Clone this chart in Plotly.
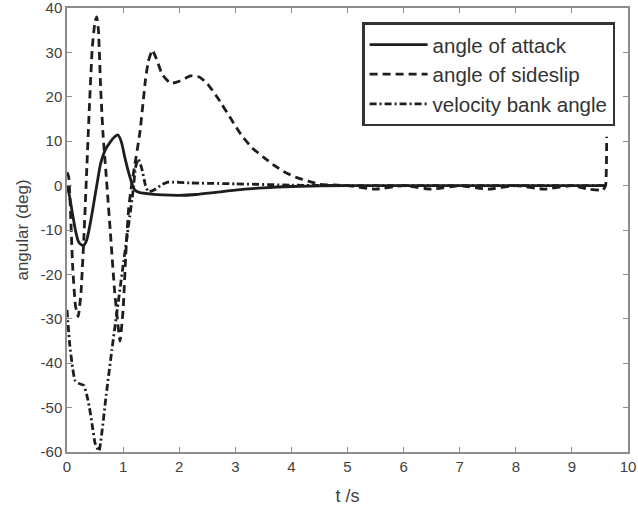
import plotly.graph_objects as go

# angle of attack (solid)
t_alpha = [0, 0.04, 0.1, 0.15, 0.2, 0.25, 0.3, 0.35, 0.4, 0.45, 0.53, 0.6, 0.68, 0.77, 0.85, 0.91, 0.97, 1.03, 1.08, 1.12, 1.17, 1.21, 1.3, 1.5, 1.7, 2.0, 2.3, 2.6, 3.0, 3.5, 4.0, 5.0, 6.0, 7.0, 8.0, 9.0, 9.6]
alpha = [0, -2, -6.5, -10, -12.5, -13.3, -13.4, -12.3, -9.5, -6, 0, 5, 8, 9.8, 11, 11.4, 9.8, 6.4, 3.8, 2, 0, -1, -1.6, -1.9, -2.1, -2.2, -2.0, -1.6, -1.0, -0.5, -0.2, 0, 0, 0, 0, 0, 0]

# angle of sideslip (dashed)
t_beta = [0, 0.03, 0.06, 0.1, 0.15, 0.2, 0.25, 0.3, 0.35, 0.4, 0.45, 0.5, 0.53, 0.56, 0.6, 0.64, 0.7, 0.77, 0.85, 0.945, 1.0, 1.05, 1.1, 1.15, 1.2, 1.3, 1.4, 1.45, 1.52, 1.58, 1.7, 1.85, 2.0, 2.2, 2.35, 2.5, 2.7, 2.9, 3.1, 3.3, 3.5, 3.7, 3.9, 4.1, 4.3, 4.5, 5.0, 5.5, 6.0, 6.5, 7.0, 7.5, 8.0, 8.5, 9.0, 9.3, 9.55, 9.6, 9.62]
beta = [3, 2, -5, -18, -27, -29.5, -24, -12, 3, 18, 31, 37, 38, 35, 22, 12, 2, -10, -24, -35, -28, -15, -5, 0, 4, 12, 24, 28, 30.5, 29, 25, 23, 23.5, 24.7, 24.5, 23, 19.5, 15.5, 11.5, 8.5, 6.4, 4.5, 2.9, 1.8, 1.0, 0.3, 0, -0.8, 0, -0.8, 0, -0.8, 0, -0.8, 0, -0.8, -1, 0, 11]

# velocity bank angle (dash-dot)
t_bank = [0, 0.05, 0.1, 0.14, 0.2, 0.3, 0.35, 0.4, 0.45, 0.5, 0.57, 0.7, 0.8, 0.9, 1.0, 1.1, 1.18, 1.22, 1.27, 1.33, 1.4, 1.45, 1.55, 1.7, 1.8, 2.2, 3.0, 4.0, 5.0, 6.0, 7.0, 8.0, 9.0, 9.6]
bank = [-28, -36, -41, -43.8, -44.5, -45, -47, -50, -54, -58, -59.8, -47, -37, -27.5, -18, -8.7, -1, 4, 6, 4, 0, -1.4, -1, 0.3, 0.8, 0.6, 0.4, 0.1, 0, 0, 0, 0, 0, 0]

x_ticks = [0, 1, 2, 3, 4, 5, 6, 7, 8, 9, 10]
y_ticks = [-60, -50, -40, -30, -20, -10, 0, 10, 20, 30, 40]

series_names = ["angle of attack", "angle of sideslip", "velocity bank angle"]

line_col = "#1e1e1e"
fig = go.Figure()
fig.add_trace(go.Scatter(x=t_alpha, y=alpha, mode="lines", name=series_names[0],
                         line=dict(color=line_col, width=2.8, shape="spline", smoothing=0.6)))
fig.add_trace(go.Scatter(x=t_beta, y=beta, mode="lines", name=series_names[1],
                         line=dict(color=line_col, width=2.8, dash="8px,5px", shape="spline", smoothing=0.4)))
fig.add_trace(go.Scatter(x=t_bank, y=bank, mode="lines", name=series_names[2],
                         line=dict(color=line_col, width=2.8, dash="7px,3px,2px,3px", shape="spline", smoothing=0.4)))

axis_col = "#8c8c8c"
font_fam = "Liberation Sans, Arial"
common = dict(showgrid=False, zeroline=False, showline=True, linecolor=axis_col, linewidth=1.5,
              mirror="ticks", ticks="inside", ticklen=5, tickcolor=axis_col, tickwidth=1,
              automargin=False, ticklabeloverflow="allow",
              tickfont=dict(family=font_fam, size=15, color="#404040"))
fig.update_xaxes(range=[0, 10], tickvals=x_ticks, ticktext=[str(v) for v in x_ticks],
                 title=dict(text="t /s", font=dict(family=font_fam, size=18, color="#404040"), standoff=16),
                 **common)
fig.update_yaxes(range=[-60, 40], tickvals=y_ticks, ticktext=[str(v) for v in y_ticks],
                 title=dict(text="angular (deg)", font=dict(family=font_fam, size=17, color="#404040"), standoff=8),
                 **common)

fig.update_layout(
    width=638, height=512,
    margin=dict(l=67, r=10, t=8, b=60),
    paper_bgcolor="white", plot_bgcolor="white",
    showlegend=True,
    legend=dict(x=0.526, y=0.968, xanchor="left", yanchor="top",
                bgcolor="white", bordercolor="#333333", borderwidth=2.5,
                font=dict(family=font_fam, size=20.5, color="#333333"),
                tracegroupgap=0, itemwidth=58),
)

fig.write_html("out.html", config={"displayModeBar": False},
               post_script="document.body.style.margin='0';document.body.style.padding='0';")
